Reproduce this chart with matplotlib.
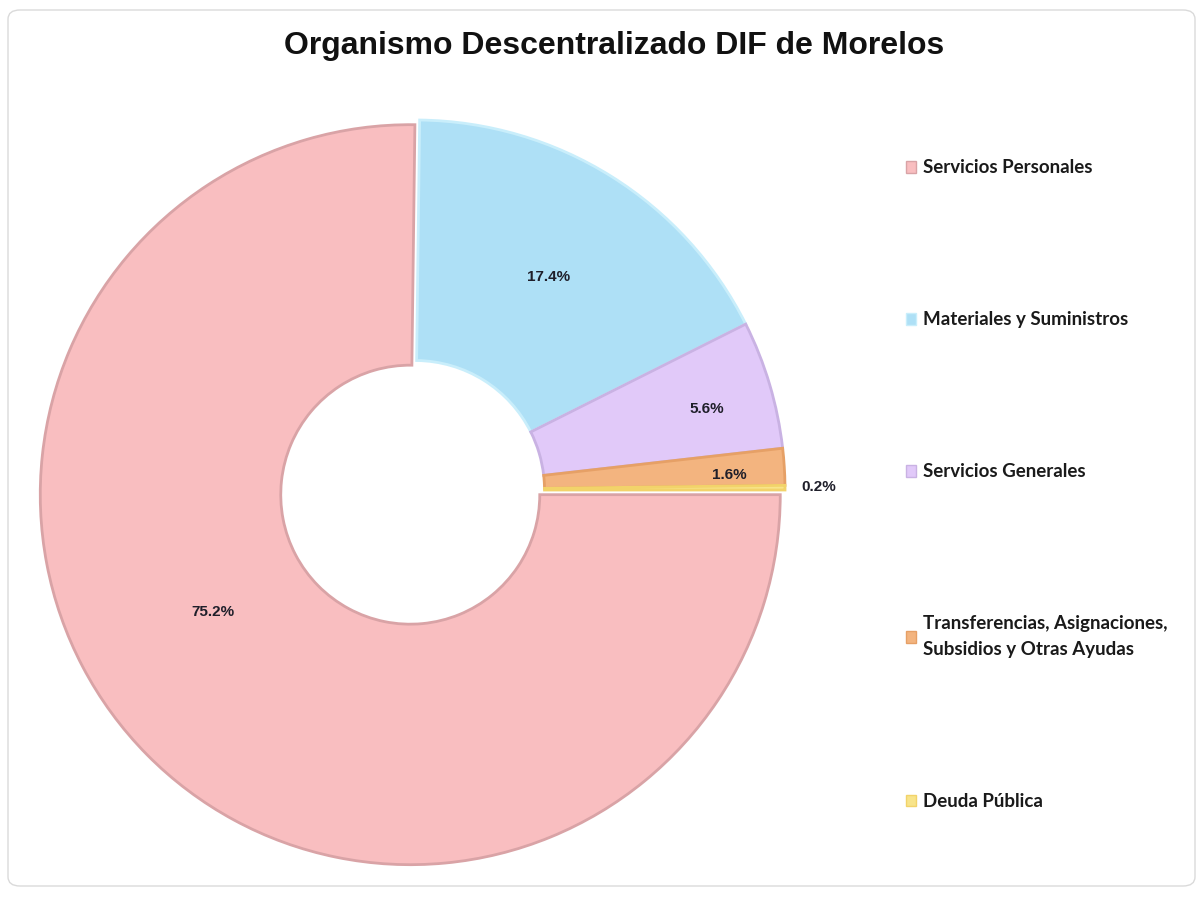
import numpy as np
import matplotlib
matplotlib.use("Agg")
import matplotlib.pyplot as plt
from matplotlib.patches import FancyBboxPatch, Patch

# ---- data ----
title = "Organismo Descentralizado DIF de Morelos"
categories = ["Servicios Personales", "Materiales y Suministros", "Servicios Generales",
              "Transferencias, Asignaciones,\nSubsidios y Otras Ayudas", "Deuda Pública"]
values = [75.2, 17.4, 5.6, 1.6, 0.2]
pct_labels = ["75.2%", "17.4%", "5.6%", "1.6%", "0.2%"]

# ---- style ----
colors = ["#F9BEC0", "#AEE0F6", "#E1C9F9", "#F3B47F", "#F8E48A"]
edges = ["#D9A3A6", "#C9EEFB", "#C9B2E3", "#E6A066", "#F2D36A"]
explode = [0.018, 0, 0, 0, 0]
label_r = [0.62, 0.68, 0.82, 0.85, 1.09]
label_da = [-14, 0, -1, -0.8, 0]

W, H = 1203, 914
fig = plt.figure(figsize=(W / 100, H / 100), dpi=100)
fig.patch.set_facecolor("white")

# chart border
fig.patches.append(FancyBboxPatch((8 / W, 28 / H), 1187 / W, 876 / H,
                                  boxstyle="round,pad=0,rounding_size=0.01",
                                  transform=fig.transFigure, facecolor="none",
                                  edgecolor="#DADADA", linewidth=1.0))

R = 370.0
cx, cy = 415, H - 490
half = 400.0
ax = fig.add_axes([(cx - half) / W, (cy - half) / H, 2 * half / W, 2 * half / H])
lim = half / R

wedges, _ = ax.pie(values, colors=colors, startangle=0, counterclock=False,
                   explode=explode, radius=1.0,
                   wedgeprops=dict(width=0.65, linewidth=2.0))
for w, ec in zip(wedges, edges):
    w.set_edgecolor(ec)
ax.set_xlim(-lim, lim)
ax.set_ylim(-lim, lim)
ax.axis("off")

for w, lab, r, da in zip(wedges, pct_labels, label_r, label_da):
    mid = np.deg2rad((w.theta1 + w.theta2) / 2 + da)
    cxw, cyw = w.center
    ax.text(cxw + r * np.cos(mid), cyw + r * np.sin(mid), lab,
            ha="center", va="center", fontsize=11, fontweight="bold",
            color="#1F1F2A", family="Liberation Sans")

fig.text(614 / W, 1 - 46 / H, title, ha="center", va="center",
         fontsize=23, fontweight="bold", family="Liberation Sans", color="#111111")

handles = [Patch(facecolor=c, edgecolor=e, linewidth=1.0) for c, e in zip(colors, edges)]
leg = fig.legend(handles, categories, loc="upper left",
                 bbox_to_anchor=(898 / W, 1 - 152 / H), frameon=False,
                 prop=dict(family="Lato", weight="bold", size=13.5),
                 handlelength=0.55, handleheight=0.55, handletextpad=0.4,
                 labelspacing=7.2, borderaxespad=0)
for t in leg.get_texts():
    t.set_color("#1a1a1a")
    t.set_linespacing(1.6)

fig.savefig("out.png", dpi=100, facecolor="white")
